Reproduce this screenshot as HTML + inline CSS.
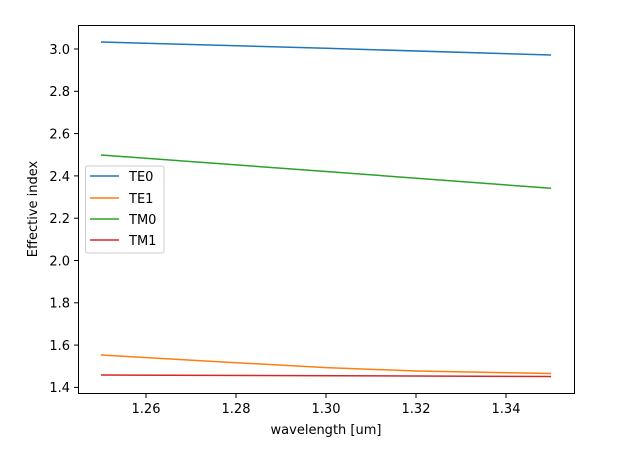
<!DOCTYPE html><html><head><style>body{margin:0;background:#fff}svg text{font-family:"DejaVu Sans","Liberation Sans",sans-serif;font-size:13px;fill:#000}</style></head><body>
<svg width="623" height="444" xmlns="http://www.w3.org/2000/svg">
<rect width="623" height="444" fill="#fff"/>
<g fill="none" stroke-width="1.5">
<polyline stroke="#1f77b4" points="101,42 326,48.3 551,55"/>
<polyline stroke="#2ca02c" points="101,155 326,171.5 551,188.3"/>
<polyline stroke="#ff7f0e" points="101,355 236,362.7 326,367.6 416,371 551,373.5"/>
<polyline stroke="#d62728" points="101,375 551,376.5"/>
</g>
<rect x="78.5" y="25.5" width="496" height="368" fill="none" stroke="#000" stroke-width="1"/>
<g stroke="#000">
<line x1="74" x2="78" y1="49" y2="49"/><line x1="74" x2="78" y1="91.3" y2="91.3"/><line x1="74" x2="78" y1="133.6" y2="133.6"/><line x1="74" x2="78" y1="175.9" y2="175.9"/><line x1="74" x2="78" y1="218.2" y2="218.2"/><line x1="74" x2="78" y1="260.5" y2="260.5"/><line x1="74" x2="78" y1="302.8" y2="302.8"/><line x1="74" x2="78" y1="345.1" y2="345.1"/><line x1="74" x2="78" y1="387.4" y2="387.4"/>
<line x1="146" x2="146" y1="394" y2="398"/><line x1="236" x2="236" y1="394" y2="398"/><line x1="326" x2="326" y1="394" y2="398"/><line x1="416" x2="416" y1="394" y2="398"/><line x1="506" x2="506" y1="394" y2="398"/>
</g>
<g text-anchor="end">
<text x="70" y="54">3.0</text><text x="70" y="96">2.8</text><text x="70" y="138.5">2.6</text><text x="70" y="181">2.4</text><text x="70" y="223">2.2</text><text x="70" y="265.5">2.0</text><text x="70" y="307.5">1.8</text><text x="70" y="350">1.6</text><text x="70" y="392">1.4</text>
</g>
<g text-anchor="middle">
<text x="146" y="413">1.26</text><text x="236" y="413">1.28</text><text x="326" y="413">1.30</text><text x="416" y="413">1.32</text><text x="506" y="413">1.34</text>
<text x="326" y="434">wavelength [um]</text>
<text transform="translate(37,209) rotate(-90)">Effective index</text>
</g>
<rect x="85.5" y="166" width="78.5" height="87" rx="2" fill="#fff" fill-opacity="0.8" stroke="#ccc"/>
<g stroke-width="1.5">
<line x1="90" x2="119" y1="176" y2="176" stroke="#1f77b4"/>
<line x1="90" x2="119" y1="198" y2="198" stroke="#ff7f0e"/>
<line x1="90" x2="119" y1="219" y2="219" stroke="#2ca02c"/>
<line x1="90" x2="119" y1="240" y2="240" stroke="#d62728"/>
</g>
<text x="129" y="181">TE0</text><text x="129" y="203">TE1</text><text x="129" y="224">TM0</text><text x="129" y="245">TM1</text>
</svg></body></html>
